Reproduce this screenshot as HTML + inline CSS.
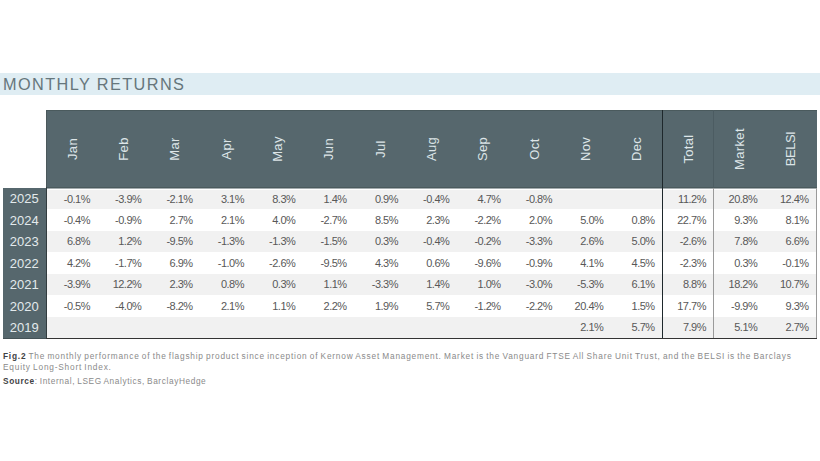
<!DOCTYPE html>
<html><head><meta charset="utf-8"><style>
html,body{margin:0;padding:0;width:820px;height:461px;overflow:hidden;background:#fff;}
body{position:relative;font-family:"Liberation Sans",sans-serif;}
div{position:absolute;box-sizing:border-box;}
.band{left:0;top:73px;width:820px;height:21.5px;background:#dfedf3;}
.title{left:3px;top:74px;font-size:16.3px;line-height:20px;color:#66767c;letter-spacing:1.4px;white-space:nowrap;}
.hdr{left:46px;top:110px;width:771px;height:78px;background:#56676d;}
.yc{left:2.5px;top:188px;width:43.5px;height:151px;background:#56676d;}
.r{left:46px;width:771px;height:21.43px;}
.g{background:#f1f1f1;}
.h{width:60px;height:16px;line-height:16px;text-align:center;color:#dde5e8;font-size:13px;letter-spacing:0.35px;transform:rotate(-90deg);white-space:nowrap;}
.c{height:21.43px;line-height:21.43px;text-align:right;font-size:11px;color:#585858;white-space:nowrap;letter-spacing:-0.5px;}
.y{left:2.5px;width:43.5px;height:21.43px;line-height:21.43px;text-align:center;font-size:13px;color:#e3eaec;letter-spacing:0px;}
.cap{left:3px;font-size:8.3px;line-height:10.8px;color:#8a8a8a;white-space:nowrap;letter-spacing:0.79px;word-spacing:-0.8px;}
.cap b{color:#3f4245;}
</style></head><body>

<div class="band"></div>
<div class="title">MONTHLY RETURNS</div>
<div class="hdr"></div>
<div class="r g" style="top:188.00px"></div>
<div class="r" style="top:209.43px"></div>
<div class="r g" style="top:230.86px"></div>
<div class="r" style="top:252.29px"></div>
<div class="r g" style="top:273.72px"></div>
<div class="r" style="top:295.15px"></div>
<div class="r g" style="top:316.58px"></div>
<div style="left:47px;top:189px;width:770px;height:1px;background:#ffffff"></div>
<div style="left:47px;top:188px;width:770px;height:1px;background:#a3abae"></div>
<div style="left:46px;top:110px;width:1px;height:78px;background:#4b585b"></div>
<div class="yc"></div>
<div style="left:2.5px;top:338px;width:43.5px;height:1px;background:#445256"></div>
<div style="left:46px;top:110px;width:771px;height:1px;background:#4a5a5d"></div>
<div style="left:46px;top:187px;width:771px;height:1px;background:#4a5a5d"></div>
<div style="left:662.00px;top:110px;width:1px;height:229px;background:#1e282c"></div>
<div style="left:713.00px;top:110px;width:1px;height:78px;background:#4c5c62"></div>
<div style="left:713.00px;top:188px;width:1px;height:150px;background:#9a9a9a"></div>
<div style="left:816.00px;top:188px;width:1px;height:150px;background:#9a9a9a"></div>
<div style="left:46px;top:187px;width:1px;height:152px;background:#323c3f"></div>
<div style="left:46px;top:338px;width:771px;height:1px;background:#333"></div>
<div class="h" style="left:42.66px;top:140.50px">Jan</div>
<div class="h" style="left:94.00px;top:140.50px">Feb</div>
<div class="h" style="left:145.32px;top:140.50px">Mar</div>
<div class="h" style="left:196.66px;top:140.50px">Apr</div>
<div class="h" style="left:247.99px;top:140.50px">May</div>
<div class="h" style="left:299.31px;top:140.50px">Jun</div>
<div class="h" style="left:350.64px;top:140.50px">Jul</div>
<div class="h" style="left:401.97px;top:140.50px">Aug</div>
<div class="h" style="left:453.31px;top:140.50px">Sep</div>
<div class="h" style="left:504.63px;top:140.50px">Oct</div>
<div class="h" style="left:555.97px;top:140.50px">Nov</div>
<div class="h" style="left:607.29px;top:140.50px">Dec</div>
<div class="h" style="left:658.62px;top:140.50px">Total</div>
<div class="h" style="left:709.95px;top:140.50px">Market</div>
<div class="h" style="letter-spacing:-0.5px;left:761.28px;top:140.50px">BELSI</div>
<div class="y" style="top:188.40px">2025</div>
<div class="c" style="left:30.00px;width:60px;top:188.60px">-0.1%</div>
<div class="c" style="left:81.33px;width:60px;top:188.60px">-3.9%</div>
<div class="c" style="left:132.66px;width:60px;top:188.60px">-2.1%</div>
<div class="c" style="left:183.99px;width:60px;top:188.60px">3.1%</div>
<div class="c" style="left:235.32px;width:60px;top:188.60px">8.3%</div>
<div class="c" style="left:286.65px;width:60px;top:188.60px">1.4%</div>
<div class="c" style="left:337.98px;width:60px;top:188.60px">0.9%</div>
<div class="c" style="left:389.31px;width:60px;top:188.60px">-0.4%</div>
<div class="c" style="left:440.64px;width:60px;top:188.60px">4.7%</div>
<div class="c" style="left:491.97px;width:60px;top:188.60px">-0.8%</div>
<div class="c" style="left:645.96px;width:60px;top:188.60px">11.2%</div>
<div class="c" style="left:697.29px;width:60px;top:188.60px">20.8%</div>
<div class="c" style="left:748.62px;width:60px;top:188.60px">12.4%</div>
<div class="y" style="top:209.83px">2024</div>
<div class="c" style="left:30.00px;width:60px;top:210.03px">-0.4%</div>
<div class="c" style="left:81.33px;width:60px;top:210.03px">-0.9%</div>
<div class="c" style="left:132.66px;width:60px;top:210.03px">2.7%</div>
<div class="c" style="left:183.99px;width:60px;top:210.03px">2.1%</div>
<div class="c" style="left:235.32px;width:60px;top:210.03px">4.0%</div>
<div class="c" style="left:286.65px;width:60px;top:210.03px">-2.7%</div>
<div class="c" style="left:337.98px;width:60px;top:210.03px">8.5%</div>
<div class="c" style="left:389.31px;width:60px;top:210.03px">2.3%</div>
<div class="c" style="left:440.64px;width:60px;top:210.03px">-2.2%</div>
<div class="c" style="left:491.97px;width:60px;top:210.03px">2.0%</div>
<div class="c" style="left:543.30px;width:60px;top:210.03px">5.0%</div>
<div class="c" style="left:594.63px;width:60px;top:210.03px">0.8%</div>
<div class="c" style="left:645.96px;width:60px;top:210.03px">22.7%</div>
<div class="c" style="left:697.29px;width:60px;top:210.03px">9.3%</div>
<div class="c" style="left:748.62px;width:60px;top:210.03px">8.1%</div>
<div class="y" style="top:231.26px">2023</div>
<div class="c" style="left:30.00px;width:60px;top:231.46px">6.8%</div>
<div class="c" style="left:81.33px;width:60px;top:231.46px">1.2%</div>
<div class="c" style="left:132.66px;width:60px;top:231.46px">-9.5%</div>
<div class="c" style="left:183.99px;width:60px;top:231.46px">-1.3%</div>
<div class="c" style="left:235.32px;width:60px;top:231.46px">-1.3%</div>
<div class="c" style="left:286.65px;width:60px;top:231.46px">-1.5%</div>
<div class="c" style="left:337.98px;width:60px;top:231.46px">0.3%</div>
<div class="c" style="left:389.31px;width:60px;top:231.46px">-0.4%</div>
<div class="c" style="left:440.64px;width:60px;top:231.46px">-0.2%</div>
<div class="c" style="left:491.97px;width:60px;top:231.46px">-3.3%</div>
<div class="c" style="left:543.30px;width:60px;top:231.46px">2.6%</div>
<div class="c" style="left:594.63px;width:60px;top:231.46px">5.0%</div>
<div class="c" style="left:645.96px;width:60px;top:231.46px">-2.6%</div>
<div class="c" style="left:697.29px;width:60px;top:231.46px">7.8%</div>
<div class="c" style="left:748.62px;width:60px;top:231.46px">6.6%</div>
<div class="y" style="top:252.69px">2022</div>
<div class="c" style="left:30.00px;width:60px;top:252.89px">4.2%</div>
<div class="c" style="left:81.33px;width:60px;top:252.89px">-1.7%</div>
<div class="c" style="left:132.66px;width:60px;top:252.89px">6.9%</div>
<div class="c" style="left:183.99px;width:60px;top:252.89px">-1.0%</div>
<div class="c" style="left:235.32px;width:60px;top:252.89px">-2.6%</div>
<div class="c" style="left:286.65px;width:60px;top:252.89px">-9.5%</div>
<div class="c" style="left:337.98px;width:60px;top:252.89px">4.3%</div>
<div class="c" style="left:389.31px;width:60px;top:252.89px">0.6%</div>
<div class="c" style="left:440.64px;width:60px;top:252.89px">-9.6%</div>
<div class="c" style="left:491.97px;width:60px;top:252.89px">-0.9%</div>
<div class="c" style="left:543.30px;width:60px;top:252.89px">4.1%</div>
<div class="c" style="left:594.63px;width:60px;top:252.89px">4.5%</div>
<div class="c" style="left:645.96px;width:60px;top:252.89px">-2.3%</div>
<div class="c" style="left:697.29px;width:60px;top:252.89px">0.3%</div>
<div class="c" style="left:748.62px;width:60px;top:252.89px">-0.1%</div>
<div class="y" style="top:274.12px">2021</div>
<div class="c" style="left:30.00px;width:60px;top:274.32px">-3.9%</div>
<div class="c" style="left:81.33px;width:60px;top:274.32px">12.2%</div>
<div class="c" style="left:132.66px;width:60px;top:274.32px">2.3%</div>
<div class="c" style="left:183.99px;width:60px;top:274.32px">0.8%</div>
<div class="c" style="left:235.32px;width:60px;top:274.32px">0.3%</div>
<div class="c" style="left:286.65px;width:60px;top:274.32px">1.1%</div>
<div class="c" style="left:337.98px;width:60px;top:274.32px">-3.3%</div>
<div class="c" style="left:389.31px;width:60px;top:274.32px">1.4%</div>
<div class="c" style="left:440.64px;width:60px;top:274.32px">1.0%</div>
<div class="c" style="left:491.97px;width:60px;top:274.32px">-3.0%</div>
<div class="c" style="left:543.30px;width:60px;top:274.32px">-5.3%</div>
<div class="c" style="left:594.63px;width:60px;top:274.32px">6.1%</div>
<div class="c" style="left:645.96px;width:60px;top:274.32px">8.8%</div>
<div class="c" style="left:697.29px;width:60px;top:274.32px">18.2%</div>
<div class="c" style="left:748.62px;width:60px;top:274.32px">10.7%</div>
<div class="y" style="top:295.55px">2020</div>
<div class="c" style="left:30.00px;width:60px;top:295.75px">-0.5%</div>
<div class="c" style="left:81.33px;width:60px;top:295.75px">-4.0%</div>
<div class="c" style="left:132.66px;width:60px;top:295.75px">-8.2%</div>
<div class="c" style="left:183.99px;width:60px;top:295.75px">2.1%</div>
<div class="c" style="left:235.32px;width:60px;top:295.75px">1.1%</div>
<div class="c" style="left:286.65px;width:60px;top:295.75px">2.2%</div>
<div class="c" style="left:337.98px;width:60px;top:295.75px">1.9%</div>
<div class="c" style="left:389.31px;width:60px;top:295.75px">5.7%</div>
<div class="c" style="left:440.64px;width:60px;top:295.75px">-1.2%</div>
<div class="c" style="left:491.97px;width:60px;top:295.75px">-2.2%</div>
<div class="c" style="left:543.30px;width:60px;top:295.75px">20.4%</div>
<div class="c" style="left:594.63px;width:60px;top:295.75px">1.5%</div>
<div class="c" style="left:645.96px;width:60px;top:295.75px">17.7%</div>
<div class="c" style="left:697.29px;width:60px;top:295.75px">-9.9%</div>
<div class="c" style="left:748.62px;width:60px;top:295.75px">9.3%</div>
<div class="y" style="top:316.98px">2019</div>
<div class="c" style="left:543.30px;width:60px;top:317.18px">2.1%</div>
<div class="c" style="left:594.63px;width:60px;top:317.18px">5.7%</div>
<div class="c" style="left:645.96px;width:60px;top:317.18px">7.9%</div>
<div class="c" style="left:697.29px;width:60px;top:317.18px">5.1%</div>
<div class="c" style="left:748.62px;width:60px;top:317.18px">2.7%</div>
<div class="cap" style="top:351.3px"><b>Fig.2</b> The monthly performance of the flagship product since inception of Kernow Asset Management. Market is the Vanguard FTSE All Share Unit Trust, and the BELSI is the Barclays<br>Equity Long-Short Index.</div>
<div class="cap" style="letter-spacing:0.6px;top:376.2px"><b>Source</b>: Internal, LSEG Analytics, BarclayHedge</div>
</body></html>
